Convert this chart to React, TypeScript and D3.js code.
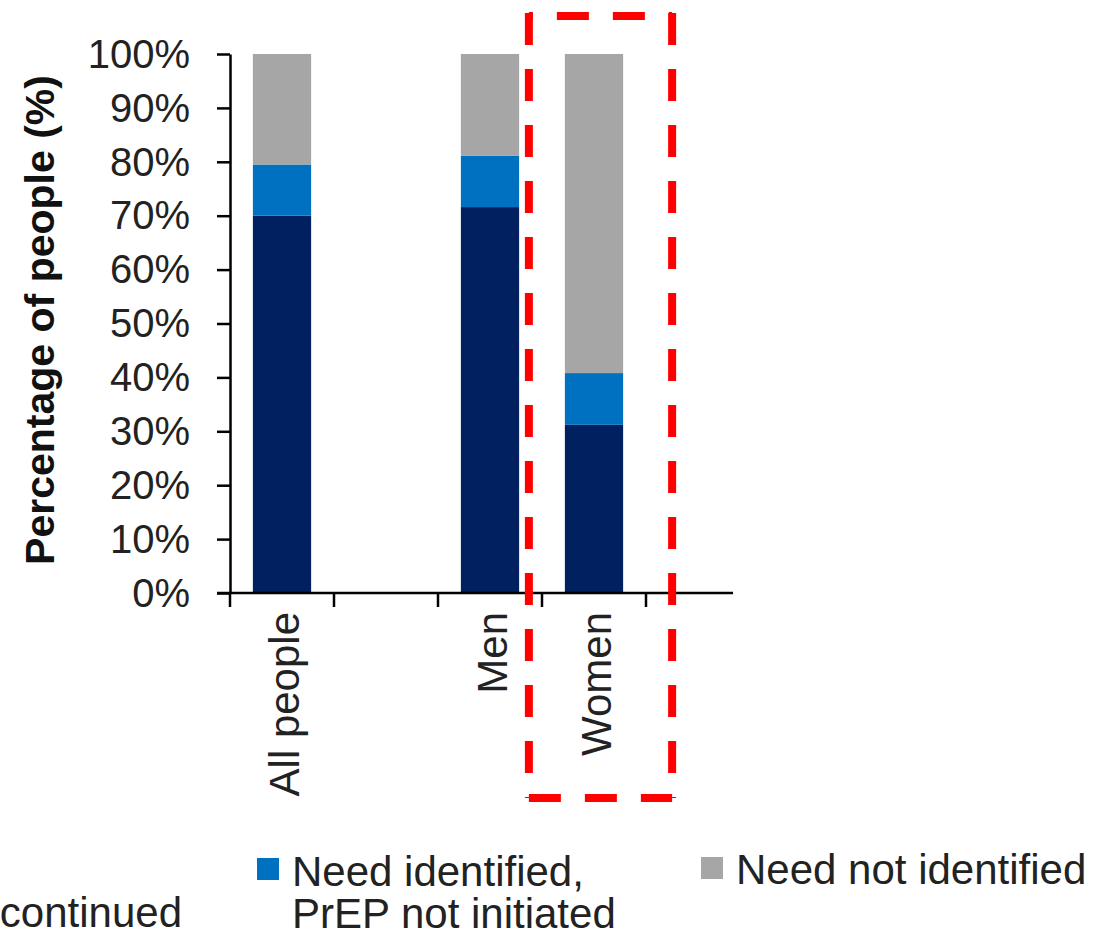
import { useEffect, useRef } from 'react'
import * as d3 from 'd3'

// slot order on the x axis; the blank slot keeps the gap after "All people"
const categories = ['All people', 'blank', 'Men', 'Women']
const categoryLabels = ['All people', '', 'Men', 'Women']

// stacked shares (%), bottom to top
const initiated = [70, 0, 71.6, 31.2]
const notInitiated = [9.5, 0, 9.5, 9.6]
const notIdentified = [20.5, 0, 18.9, 59.2]

const seriesKeys = ['initiated', 'notInitiated', 'notIdentified'] as const
const seriesColors = ['#002060', '#0070C0', '#A6A6A6']

const yTicks = [0, 10, 20, 30, 40, 50, 60, 70, 80, 90, 100]

const highlighted = 'Women'

type Row = { cat: string; initiated: number; notInitiated: number; notIdentified: number }

const App = () => {
  const svgRef = useRef<SVGSVGElement | null>(null)

  useEffect(() => {
    if (!svgRef.current) return
    const svg = d3.select(svgRef.current)
    svg.selectAll('*').remove()

    const width = 1100
    const height = 936
    const font = '"Liberation Sans", Arial, sans-serif'
    svg.attr('viewBox', `0 0 ${width} ${height}`)

    const rows: Row[] = categories.map((cat, i) => ({
      cat,
      initiated: initiated[i],
      notInitiated: notInitiated[i],
      notIdentified: notIdentified[i],
    }))

    const x = d3
      .scaleBand<string>()
      .domain(categories)
      .range([230, 646])
      .paddingInner(0.44)
      .paddingOuter(0.22)

    const y = d3.scaleLinear().domain([0, 100]).range([593, 54])

    const stack = d3.stack<Row>().keys(seriesKeys as unknown as string[])
    const layers = stack(rows)

    svg
      .append('g')
      .selectAll('g')
      .data(layers)
      .enter()
      .append('g')
      .attr('fill', (_, i) => seriesColors[i])
      .selectAll('rect')
      .data((d) => d.filter((s) => s[1] - s[0] > 0))
      .enter()
      .append('rect')
      .attr('x', (d) => x(d.data.cat)!)
      .attr('width', x.bandwidth())
      .attr('y', (d) => y(d[1]))
      .attr('height', (d) => y(d[0]) - y(d[1]))

    // y axis
    const yAxis = svg
      .append('g')
      .attr('transform', 'translate(230,0)')
      .call(
        d3
          .axisLeft(y)
          .tickValues(yTicks)
          .tickSize(13)
          .tickSizeOuter(0)
          .tickPadding(27)
          .tickFormat((d) => `${d}%`)
      )
    yAxis.select('.domain').attr('stroke', '#000').attr('stroke-width', 2.5)
    yAxis.selectAll('line').attr('stroke', '#000').attr('stroke-width', 2.5)
    yAxis
      .selectAll('text')
      .attr('font-family', font)
      .attr('font-size', 40)
      .attr('fill', '#222')
      .attr('dy', '0.33em')

    // x axis: line plus ticks at slot boundaries
    const step = x.step()
    const start = x.range()[0]
    const boundaries = d3.range(categories.length + 1).map((i) => start + i * step)
    const xAxis = svg.append('g')
    xAxis
      .append('line')
      .attr('x1', 217)
      .attr('x2', 733)
      .attr('y1', y(0))
      .attr('y2', y(0))
      .attr('stroke', '#000')
      .attr('stroke-width', 2.5)
    xAxis
      .selectAll('line.tick')
      .data(boundaries)
      .enter()
      .append('line')
      .attr('class', 'tick')
      .attr('x1', (d) => d)
      .attr('x2', (d) => d)
      .attr('y1', y(0))
      .attr('y2', y(0) + 14)
      .attr('stroke', '#000')
      .attr('stroke-width', 2.5)
    xAxis
      .selectAll('text')
      .data(categories.map((c, i) => ({ c, label: categoryLabels[i] })).filter((d) => d.label))
      .enter()
      .append('text')
      .attr('transform', (d) => `translate(${x(d.c)! + x.bandwidth() / 2 + 17},612) rotate(-90)`)
      .attr('text-anchor', 'end')
      .attr('font-family', font)
      .attr('font-size', 42)
      .attr('fill', '#222')
      .text((d) => d.label)

    // y axis title
    svg
      .append('text')
      .attr('transform', 'translate(54,320) rotate(-90)')
      .attr('text-anchor', 'middle')
      .attr('font-family', font)
      .attr('font-size', 41)
      .attr('font-weight', 'bold')
      .attr('fill', '#111')
      .text('Percentage of people (%)')

    // highlight box round one category
    const hx0 = x(highlighted)! - 36
    const hx1 = x(highlighted)! + x.bandwidth() + 49
    const hy0 = 13
    const hy1 = 798
    const box = svg.append('g').attr('stroke', '#FF0000').attr('stroke-width', 8).attr('fill', 'none').attr('stroke-dasharray', '32 24')
    box.append('line').attr('x1', hx0).attr('x2', hx0).attr('y1', hy0).attr('y2', hy1)
    box.append('line').attr('x1', hx1).attr('x2', hx1).attr('y1', hy0).attr('y2', hy1)
    box.append('line').attr('x1', hx0).attr('x2', hx1).attr('y1', 16).attr('y2', 16).attr('stroke-dashoffset', 28)
    box.append('line').attr('x1', hx0).attr('x2', hx1).attr('y1', hy1).attr('y2', hy1)

    // legend (first item is cut off at the left edge)
    const legend = svg.append('g').attr('font-family', font).attr('font-size', 42).attr('fill', '#222')
    legend.append('text').attr('x', 182).attr('y', 927).attr('text-anchor', 'end').text('continued')

    legend.append('rect').attr('x', 257).attr('y', 858).attr('width', 22).attr('height', 22).attr('fill', seriesColors[1])
    legend.append('text').attr('x', 292).attr('y', 886).text('Need identified,')
    legend.append('text').attr('x', 292).attr('y', 928).text('PrEP not initiated')

    legend.append('rect').attr('x', 701).attr('y', 857).attr('width', 22).attr('height', 22).attr('fill', seriesColors[2])
    legend.append('text').attr('x', 736).attr('y', 884).text('Need not identified')
  }, [])

  return (
    <svg
      ref={svgRef}
      width={1100}
      height={936}
      style={{ position: 'absolute', left: 0, top: 0, background: '#fff' }}
    />
  )
}

export default App
